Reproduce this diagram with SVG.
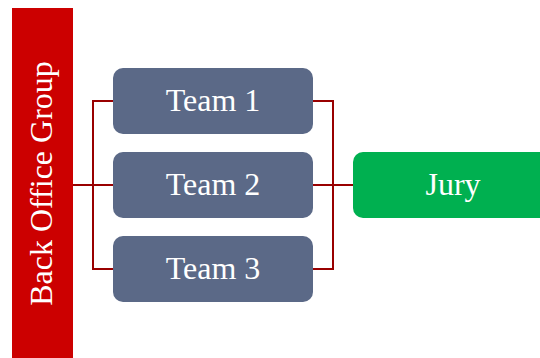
<svg xmlns="http://www.w3.org/2000/svg" width="540" height="358" viewBox="0 0 540 358">
<style>
.team{fill:#5B6987;}
.lbl{font-family:"Liberation Serif",serif;font-size:32px;fill:#FFFFFF;text-anchor:middle;}
.conn{stroke:#990000;stroke-width:2;fill:none;}
</style>
<rect width="540" height="358" fill="#FFFFFF"/>
<g id="connectors">
<polyline class="conn" points="73,185 113,185"/>
<polyline class="conn" points="113,101 93,101 93,269 113,269"/>
<polyline class="conn" points="313,101 333,101 333,269 313,269"/>
<polyline class="conn" points="313,185 353,185"/>
</g>
<g id="back-office-group">
<rect x="12" y="8" width="61" height="350" fill="#CC0000"/>
<text class="lbl" transform="translate(52,183.5) rotate(-90)">Back Office Group</text>
</g>
<g id="team-1">
<rect class="team" x="113" y="68" width="200" height="66" rx="10"/>
<text class="lbl" x="213" y="111">Team 1</text>
</g>
<g id="team-2">
<rect class="team" x="113" y="152" width="200" height="66" rx="10"/>
<text class="lbl" x="213" y="195">Team 2</text>
</g>
<g id="team-3">
<rect class="team" x="113" y="236" width="200" height="66" rx="10"/>
<text class="lbl" x="213" y="279">Team 3</text>
</g>
<g id="jury">
<rect x="353" y="152" width="200" height="66" rx="10" fill="#00B050"/>
<text class="lbl" x="453" y="195">Jury</text>
</g>
</svg>
